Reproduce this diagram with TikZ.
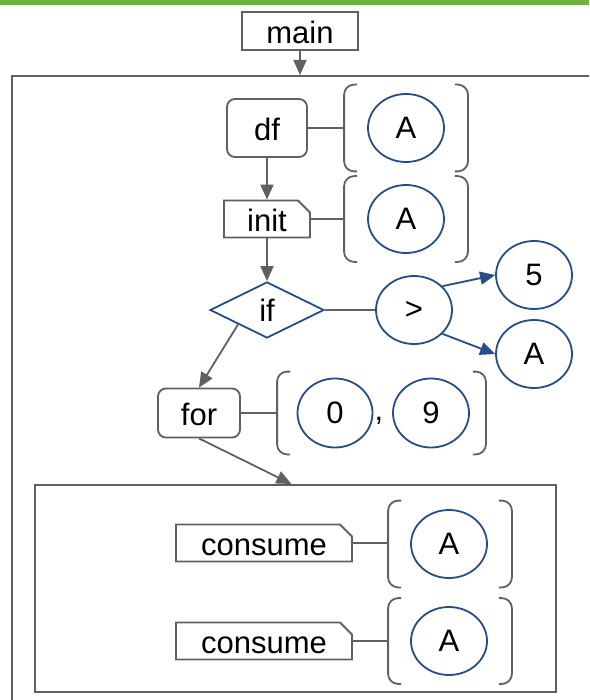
\documentclass[tikz,border=0pt]{standalone}
\usepackage{fontspec}
\setmainfont{Liberation Sans}
\usetikzlibrary{arrows.meta,shapes.geometric,shapes.misc}
\definecolor{linegray}{RGB}{96,96,96}
\definecolor{flowblue}{RGB}{38,77,138}
\definecolor{topgreen}{RGB}{109,180,63}
\begin{document}
\begin{tikzpicture}[x=1pt,y=-1pt,
  font=\fontsize{31}{36}\selectfont, line width=1.8pt,
  box/.style={draw=linegray, fill=white, inner sep=0pt,
    text height=25pt, text depth=0pt},
  rbox/.style={box, rounded corners=8pt},
  cbox/.style={box, chamfered rectangle, chamfered rectangle corners=north east,
    chamfered rectangle xsep=6pt, chamfered rectangle ysep=6pt},
  val/.style={draw=flowblue, ellipse, fill=white, inner sep=0pt,
    minimum width=76pt, minimum height=68pt},
  cond/.style={draw=flowblue, diamond, fill=white, inner sep=0pt,
    minimum width=114pt, minimum height=56pt},
  group/.style={inner sep=0pt, minimum width=122pt, minimum height=84pt},
  frame/.style={draw=linegray, inner sep=0pt, anchor=north west},
  link/.style={draw=linegray},
  flow/.style={link, -{Triangle[length=15pt,width=13pt]}},
  bflow/.style={draw=flowblue, -{Triangle[length=15pt,width=13pt]}},
]
\useasboundingbox (0,0) rectangle (589,700);
\clip (0,0) rectangle (589,700);
\fill[white] (0,0) rectangle (589,700);
\fill[topgreen] (0,0) rectangle (589,5);

% containers
\node[frame, minimum width=640pt, minimum height=660pt] (outer) at (11,75) {};
\node[frame, minimum width=521pt, minimum height=207pt] (inner) at (34,484) {};

% statements
\node[box, minimum width=116pt, minimum height=38pt] (main) at (300,31) {main};
\node[rbox, minimum width=80pt, minimum height=58pt] (df) at (267,128) {df};
\node[cbox, minimum width=86pt, minimum height=36pt] (init) at (267,219) {init};
\node[cond] (if) at (267,310) {if};
\node[rbox, minimum width=82pt, minimum height=49pt] (for) at (199,413) {for};
\node[cbox, minimum width=176pt, minimum height=37pt] (cons1) at (264,543) {consume};
\node[cbox, minimum width=176pt, minimum height=37pt] (cons2) at (264,641) {consume};

% argument groups
\node[group, minimum height=85pt] (b1) at (406,128) {};
\node[group] (b2) at (406,219) {};
\node[group, minimum width=207pt, minimum height=81pt] (b3) at (381.5,413) {};
\node[group, minimum height=85pt] (b4) at (450,544) {};
\node[group] (b5) at (450,641) {};
\foreach \g in {b1,b2,b3,b4,b5} {
  \draw[link, rounded corners=10pt] ([xshift=13pt]\g.north west) -- (\g.north west)
    -- (\g.south west) -- ([xshift=13pt]\g.south west);
  \draw[link, rounded corners=10pt] ([xshift=-13pt]\g.north east) -- (\g.north east)
    -- (\g.south east) -- ([xshift=-13pt]\g.south east);
}

% values
\node[val] (a1) at (406,128) {A};
\node[val] (a2) at (406,219) {A};
\node[val] (gt) at (414,310) {>};
\node[val] (five) at (534,275) {5};
\node[val] (a3) at (534,354) {A};
\node[val, minimum width=75pt, minimum height=69pt] (zero) at (335,413) {0};
\node (comma) at (379,421) {,};
\node[val, minimum height=69pt] (nine) at (431,413) {9};
\node[val] (a4) at (449,544) {A};
\node[val] (a5) at (449,641) {A};

% control flow
\draw[flow] (main.south) -- (main.south |- outer.north);
\draw[flow] (df.south) -- (init.north);
\draw[flow] (init.south) -- (if.north);
\draw[flow] (if.south west) -- (for.north);
\draw[flow] (for.south) -- ([xshift=-4pt]inner.north);

% argument links
\draw[link] (df.east) -- (df.east -| b1.west);
\draw[link] (init.east) -- (init.east -| b2.west);
\draw[link] (if.east) -- (gt.west);
\draw[link] (for.east) -- (for.east -| b3.west);
\draw[link] (cons1.east) -- (cons1.east -| b4.west);
\draw[link] (cons2.east) -- (cons2.east -| b5.west);
\draw[bflow] (gt.40) -- (five.west);
\draw[bflow] (gt.-40) -- (a3.west);
\end{tikzpicture}
\end{document}
